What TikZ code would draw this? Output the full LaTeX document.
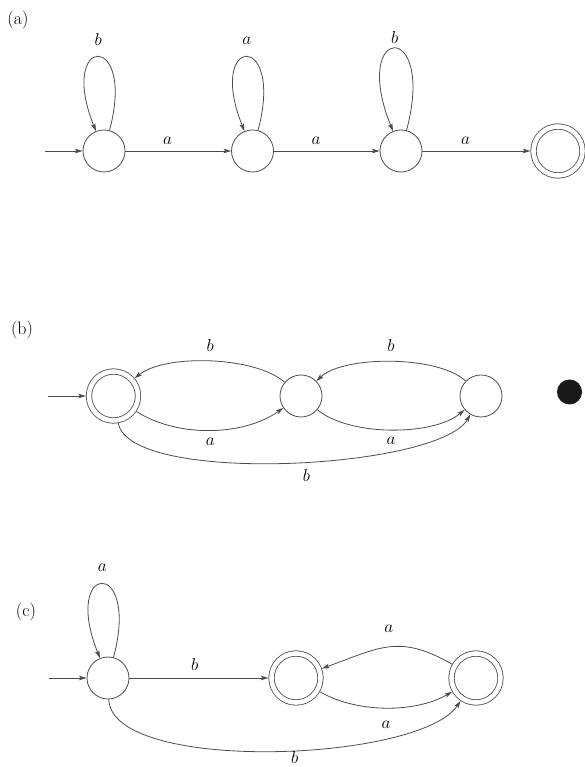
\documentclass[tikz,border=0pt]{standalone}
\usepackage{amsmath}
\usetikzlibrary{automata, positioning, arrows.meta}

\tikzset{
  every state/.style={draw=black!70, line width=0.8pt, minimum size=42pt, inner sep=0pt},
  accepting by double/.append style={double distance=4.6pt, minimum size=49pt, outer sep=3.1pt},
  every initial by arrow/.style={draw=black!70, line width=0.8pt},
  tallloop/.style={out=75, in=112, distance=104pt},
  panel/.style={font=\fontsize{18}{21}\selectfont},
}

\begin{document}
\begin{tikzpicture}[x=1pt, y=1pt, >={Stealth[length=7.5pt, width=4.5pt, inset=1.5pt]},
    on grid, auto, font=\fontsize{17}{20}\selectfont,
    initial text=, initial distance=38pt,
    every edge/.append style={draw=black!70, line width=0.8pt}]
  \useasboundingbox (0,0) rectangle (585,767);

  % (a)
  \node[panel] (lbla) at (18,747) {(a)};
  \node[state, initial] (qa0) at (104,616) {};
  \node[state] (qa1) [right=148.5pt of qa0] {};
  \node[state] (qa2) [right=148.5pt of qa1] {};
  \node[state, accepting] (qa3) [right=157pt of qa2] {};

  \path[->]
  (qa0) edge [tallloop] node [above=8pt] {$b$} (qa0)
  (qa0) edge node [above=3pt, pos=0.4] {$a$} (qa1)
  (qa1) edge [tallloop] node [above=9pt] {$a$} (qa1)
  (qa1) edge node [above=3pt, pos=0.4] {$a$} (qa2)
  (qa2) edge [tallloop, distance=116pt] node [above=1pt] {$b$} (qa2)
  (qa2) edge node [above=3pt, pos=0.4] {$a$} (qa3)
  ;

  % (b)
  \node[panel] (lblb) at (22,437) {(b)};
  \node[state, initial, accepting] (qb0) at (113.5,371) {};
  \node[state] (qb1) [right=187.5pt of qb0] {};
  \node[state] (qb2) [right=180pt of qb1] {};
  \fill[black!90] (569.5,375) circle (12.5pt);

  \path[->]
  (qb1) edge [bend right=40, looseness=0.67] node [above=6pt] {$b$} (qb0)
  (qb0) edge [bend right=34, looseness=0.85] node [below=4pt] {$a$} (qb1)
  (qb2) edge [bend right=44, looseness=0.64] node [above=6.5pt] {$b$} (qb1)
  (qb1) edge [bend right=40, looseness=0.72] node [below=4pt] {$a$} (qb2)
  (qb0) edge [out=-80, in=-120, looseness=0.46] node [below=4pt, pos=0.54] {$b$} (qb2)
  ;

  % (c)
  \node[panel] (lblc) at (26,154.5) {(c)};
  \node[state, initial] (qc0) at (108,89) {};
  \node[state, accepting] (qc1) [right=188pt of qc0] {};
  \node[state, accepting] (qc2) [right=180pt of qc1] {};

  \path[->]
  (qc0) edge [tallloop] node [above=9pt] {$a$} (qc0)
  (qc0) edge node [above=4pt, pos=0.47] {$b$} (qc1)
  (qc2) edge [out=150, in=20, looseness=1.2] node [above=11pt] {$a$} (qc1)
  (qc1) edge [bend right=30, looseness=0.83] node [below=9pt] {$a$} (qc2)
  (qc0) edge [out=-88, in=-124, looseness=0.54] node [below=-2.5pt, pos=0.55] {$b$} (qc2)
  ;
\end{tikzpicture}
\end{document}
